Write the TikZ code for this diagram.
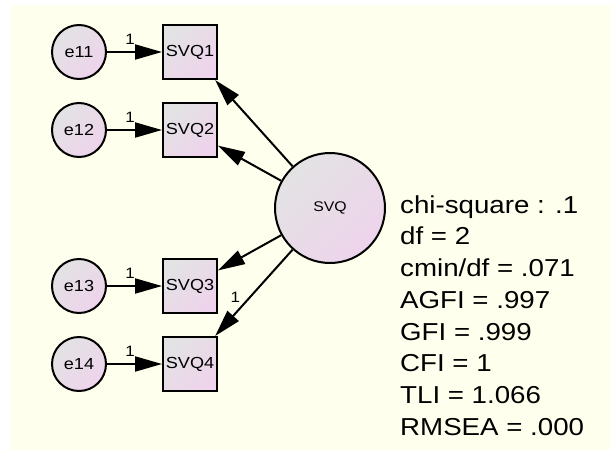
\documentclass[tikz,border=0pt]{standalone}
\usepackage{fontspec}
\setmainfont{Liberation Sans}[FakeStretch=1.13]
\usetikzlibrary{arrows.meta}

\definecolor{canvas}{HTML}{FFFFEE}
\definecolor{shadeA}{HTML}{E3E3E3}
\definecolor{shadeB}{HTML}{EED3EC}

\begin{document}
\begin{tikzpicture}[x=1pt,y=-1pt,
  latent/.style={circle, draw, line width=2pt, top color=shadeA,
    bottom color=shadeB, shading angle=45, inner sep=0pt,
    minimum size=54pt, font=\fontsize{16}{16}\selectfont},
  factor/.style={latent, minimum size=110pt},
  observed/.style={rectangle, draw, line width=2pt, top color=shadeA,
    bottom color=shadeB, shading angle=45, inner sep=0pt,
    minimum size=54pt, font=\fontsize{16}{16}\selectfont},
  regpath/.style={line width=2pt, -{Triangle[length=27pt,width=15pt]}},
  weight/.style={font=\fontsize{15}{15}\selectfont, inner sep=1pt},
  fitstat/.style={anchor=base west, inner sep=0pt,
    font=\fontsize{24.5}{24.5}\selectfont}]

  % canvas: white margin on the left and top, pale yellow sheet
  \useasboundingbox (0,0) rectangle (611,450);
  \fill[white] (0,0) rectangle (611,450);
  \fill[canvas] (11,5) rectangle (611,450);

  % error terms
  \node[latent] (e11) at (79,52)  {e11};
  \node[latent] (e12) at (79,130) {e12};
  \node[latent] (e13) at (79,286) {e13};
  \node[latent] (e14) at (79,364) {e14};

  % indicators
  \node[observed] (svq1) at (190,52)  {SVQ1};
  \node[observed] (svq2) at (190,130) {SVQ2};
  \node[observed] (svq3) at (190,286) {SVQ3};
  \node[observed] (svq4) at (190,364) {SVQ4};

  % latent factor
  \node[factor, font=\fontsize{14}{14}\selectfont] (svq) at (330,208) {SVQ};

  % error paths
  \draw[regpath] (e11) -- node[weight, above=6pt, pos=0.42] {1} (svq1);
  \draw[regpath] (e12) -- node[weight, above=6pt, pos=0.42] {1} (svq2);
  \draw[regpath] (e13) -- node[weight, above=6pt, pos=0.42] {1} (svq3);
  \draw[regpath] (e14) -- node[weight, above=6pt, pos=0.42] {1} (svq4);

  % loadings
  \draw[regpath] (svq) -- (svq1);
  \draw[regpath] (svq) -- (svq2);
  \draw[regpath] (svq) -- (svq3);
  \draw[regpath] (svq) -- node[weight, left=8pt, pos=0.55] {1} (svq4);

  % fit statistics
  \foreach \txt [count=\i] in {chi-square : .1, df = 2, cmin/df = .071,
      AGFI = .997, GFI = .999, CFI = 1, TLI = 1.066, RMSEA = .000}
    \node[fitstat] (stat\i) at (400, 181.5+31.7*\i) {\txt};
\end{tikzpicture}
\end{document}
